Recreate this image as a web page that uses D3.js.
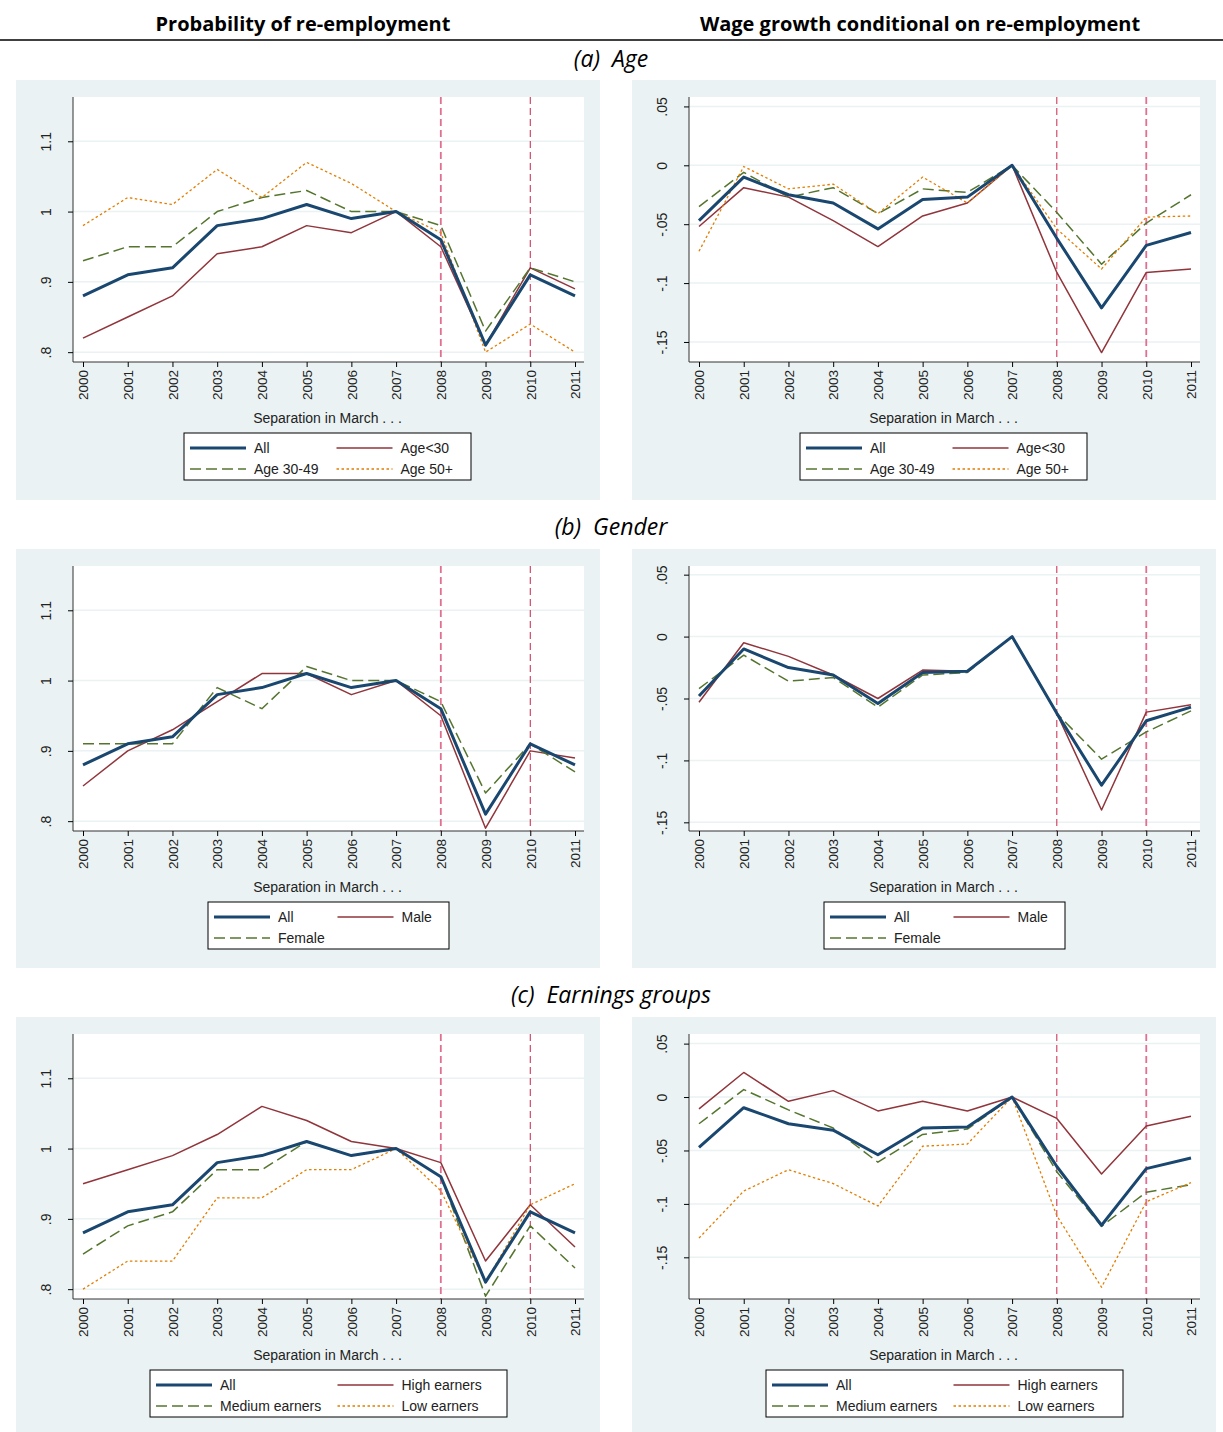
<!DOCTYPE html>
<html>
<head>
<meta charset="utf-8">
<script src="https://cdn.jsdelivr.net/npm/d3@7"></script>
<style>
  body { margin: 0; background: #fff; }
  svg { display: block; }
</style>
</head>
<body>
<div id="wrapper"></div>
<script>
const years = [2000, 2001, 2002, 2003, 2004, 2005, 2006, 2007, 2008, 2009, 2010, 2011];

// probability of re-employment
const probAll = [0.88, 0.91, 0.92, 0.98, 0.99, 1.01, 0.99, 1.0, 0.96, 0.81, 0.91, 0.88];
const probAgeU30 = [0.82, 0.85, 0.88, 0.94, 0.95, 0.98, 0.97, 1.0, 0.95, 0.81, 0.92, 0.89];
const probAge3049 = [0.93, 0.95, 0.95, 1.0, 1.02, 1.03, 1.0, 1.0, 0.98, 0.83, 0.92, 0.90];
const probAge50 = [0.98, 1.02, 1.01, 1.06, 1.02, 1.07, 1.04, 1.0, 0.97, 0.80, 0.84, 0.80];
const probMale = [0.85, 0.90, 0.93, 0.97, 1.01, 1.01, 0.98, 1.0, 0.95, 0.79, 0.90, 0.89];
const probFemale = [0.91, 0.91, 0.91, 0.99, 0.96, 1.02, 1.0, 1.0, 0.97, 0.84, 0.91, 0.87];
const probHigh = [0.95, 0.97, 0.99, 1.02, 1.06, 1.04, 1.01, 1.0, 0.98, 0.84, 0.92, 0.86];
const probMedium = [0.85, 0.89, 0.91, 0.97, 0.97, 1.01, 0.99, 1.0, 0.96, 0.79, 0.89, 0.83];
const probLow = [0.80, 0.84, 0.84, 0.93, 0.93, 0.97, 0.97, 1.0, 0.94, 0.81, 0.92, 0.95];

// wage growth conditional on re-employment
const wageAll = [-0.047, -0.010, -0.025, -0.032, -0.054, -0.029, -0.027, 0, -0.062, -0.121, -0.068, -0.057];
const wageAgeU30 = [-0.052, -0.019, -0.027, -0.047, -0.069, -0.043, -0.032, 0, -0.091, -0.159, -0.091, -0.088];
const wageAge3049 = [-0.035, -0.006, -0.027, -0.019, -0.041, -0.020, -0.023, 0, -0.040, -0.084, -0.049, -0.025];
const wageAge50 = [-0.073, -0.001, -0.020, -0.016, -0.041, -0.010, -0.032, 0, -0.054, -0.088, -0.044, -0.043];
const wageGAll = [-0.048, -0.010, -0.025, -0.031, -0.054, -0.029, -0.028, 0, -0.062, -0.120, -0.068, -0.057];
const wageMale = [-0.053, -0.005, -0.016, -0.031, -0.050, -0.027, -0.028, 0, -0.062, -0.140, -0.061, -0.055];
const wageFemale = [-0.042, -0.015, -0.036, -0.033, -0.057, -0.031, -0.029, 0, -0.062, -0.099, -0.077, -0.060];
const wageEAll = [-0.047, -0.010, -0.025, -0.031, -0.054, -0.029, -0.028, 0, -0.065, -0.120, -0.067, -0.057];
const wageHigh = [-0.011, 0.023, -0.004, 0.006, -0.013, -0.004, -0.013, 0, -0.020, -0.072, -0.027, -0.018];
const wageMedium = [-0.025, 0.007, -0.012, -0.029, -0.061, -0.035, -0.030, 0, -0.070, -0.121, -0.089, -0.082];
const wageLow = [-0.132, -0.088, -0.068, -0.081, -0.102, -0.046, -0.044, 0, -0.111, -0.178, -0.098, -0.080];

const probTicks = [0.8, 0.9, 1.0, 1.1];
const probTickLabels = [".8", ".9", "1", "1.1"];
const wageTicks = [0.05, 0, -0.05, -0.1, -0.15];
const wageTickLabels = [".05", "0", "-.05", "-.1", "-.15"];

const styles = {
  all: { color: "#1a476f", width: 3, dash: null },
  red: { color: "#90353b", width: 1.5, dash: null },
  green: { color: "#55752f", width: 1.5, dash: "11,5" },
  orange: { color: "#e37e00", width: 1.3, dash: "2.5,2.5" },
};

const width = 1223, height = 1432;
const svg = d3.select("#wrapper").append("svg").attr("width", width).attr("height", height);
const font = "'Liberation Sans', Arial, sans-serif";
const titleFont = "'Open Sans', 'Noto Sans', sans-serif";

// headers
svg.append("text").attr("x", 303).attr("y", 31).attr("text-anchor", "middle")
  .attr("font-family", titleFont).attr("font-weight", "bold").attr("font-size", 20)
  .text("Probability of re-employment");
svg.append("text").attr("x", 920).attr("y", 31).attr("text-anchor", "middle")
  .attr("font-family", titleFont).attr("font-weight", "bold").attr("font-size", 20)
  .text("Wage growth conditional on re-employment");
svg.append("line").attr("x1", 0).attr("x2", width).attr("y1", 40).attr("y2", 40)
  .attr("stroke", "#000").attr("stroke-width", 1.3);

const rows = [
  {
    title: "(a)  Age", titleY: 67, top: 80, bottom: 500,
    left: { series: [["All", probAll, "all"], ["Age<30", probAgeU30, "red"], ["Age 30-49", probAge3049, "green"], ["Age 50+", probAge50, "orange"]], domain: [0.786, 1.163], legend: [184, 471] },
    right: { series: [["All", wageAll, "all"], ["Age<30", wageAgeU30, "red"], ["Age 30-49", wageAge3049, "green"], ["Age 50+", wageAge50, "orange"]], domain: [-0.167, 0.058], legend: [800, 1087] },
  },
  {
    title: "(b)  Gender", titleY: 535, top: 549, bottom: 968,
    left: { series: [["All", probAll, "all"], ["Male", probMale, "red"], ["Female", probFemale, "green"]], domain: [0.786, 1.163], legend: [208, 449] },
    right: { series: [["All", wageGAll, "all"], ["Male", wageMale, "red"], ["Female", wageFemale, "green"]], domain: [-0.157, 0.057], legend: [824, 1065] },
  },
  {
    title: "(c)  Earnings groups", titleY: 1003, top: 1017, bottom: 1432,
    left: { series: [["All", probAll, "all"], ["High earners", probHigh, "red"], ["Medium earners", probMedium, "green"], ["Low earners", probLow, "orange"]], domain: [0.786, 1.163], legend: [150, 507] },
    right: { series: [["All", wageEAll, "all"], ["High earners", wageHigh, "red"], ["Medium earners", wageMedium, "green"], ["Low earners", wageLow, "orange"]], domain: [-0.189, 0.059], legend: [766, 1123] },
  },
];

function drawPanel(p, bgX, top, bottom, isProb, thickLineYear) {
  svg.append("rect").attr("x", bgX).attr("y", top).attr("width", 584).attr("height", bottom - top)
    .attr("fill", "#eaf2f3");
  const plot = { left: bgX + 57, right: bgX + 568, top: top + 17, bottom: top + 282 };
  svg.append("rect").attr("x", plot.left).attr("y", plot.top)
    .attr("width", plot.right - plot.left).attr("height", plot.bottom - plot.top).attr("fill", "#fff");

  const x = d3.scalePoint().domain(years).range([plot.left + 10, plot.right - 9]);
  const y = d3.scaleLinear().domain(p.domain).range([plot.bottom, plot.top]);
  const ticks = isProb ? probTicks : wageTicks;
  const labels = isProb ? probTickLabels : wageTickLabels;

  // gridlines
  svg.append("g").selectAll("line").data(ticks).join("line")
    .attr("x1", plot.left).attr("x2", plot.right)
    .attr("y1", d => y(d)).attr("y2", d => y(d))
    .attr("stroke", "#eaf2f3").attr("stroke-width", 1.5);

  // vertical reference lines
  [2008, 2010].forEach(yr => {
    const thick = yr === thickLineYear;
    svg.append("line").attr("x1", x(yr)).attr("x2", x(yr)).attr("y1", plot.top).attr("y2", plot.bottom)
      .attr("stroke", thick ? "#e07090" : "#c8264a").attr("stroke-width", thick ? 1.8 : 1)
      .attr("stroke-dasharray", "7,4");
  });

  // axes
  const yAxis = d3.axisLeft(y).tickValues(ticks).tickFormat((d, i) => labels[i]).tickSize(5);
  const ya = svg.append("g").attr("transform", `translate(${plot.left},0)`).call(yAxis);
  ya.select(".domain").attr("d", `M0,${plot.top}V${plot.bottom}`).attr("stroke", "#333");
  ya.selectAll("text").attr("font-family", font).attr("font-size", 14).attr("fill", "#222")
    .attr("x", 0).attr("y", 0).attr("dy", "0.35em").attr("text-anchor", "middle")
    .attr("transform", "translate(-27,0) rotate(-90)");

  const xAxis = d3.axisBottom(x).tickSize(5);
  const xa = svg.append("g").attr("transform", `translate(0,${plot.bottom})`).call(xAxis);
  xa.select(".domain").attr("d", `M${plot.left},0H${plot.right}`).attr("stroke", "#333");
  xa.selectAll("text").attr("font-family", font).attr("font-size", 13.5).attr("fill", "#222")
    .attr("transform", "rotate(-90)").attr("text-anchor", "end")
    .attr("x", -8).attr("y", 0).attr("dy", "0.35em");

  svg.append("text").attr("x", (plot.left + plot.right) / 2 - 1).attr("y", plot.bottom + 61)
    .attr("text-anchor", "middle").attr("font-family", font).attr("font-size", 14).attr("fill", "#222")
    .text("Separation in March . . .");

  // lines (red, green, orange first; "All" on top)
  const line = d3.line().x((d, i) => x(years[i])).y(d => y(d));
  const order = p.series.slice(1).concat([p.series[0]]);
  order.forEach(([name, vals, key]) => {
    const s = styles[key];
    svg.append("path").attr("d", line(vals)).attr("fill", "none")
      .attr("stroke", s.color).attr("stroke-width", s.width)
      .attr("stroke-dasharray", s.dash).attr("stroke-linejoin", "round");
  });

  // legend
  const [lx0, lx1] = p.legend;
  const ly = plot.bottom + 71;
  svg.append("rect").attr("x", lx0).attr("y", ly).attr("width", lx1 - lx0).attr("height", 47)
    .attr("fill", "#fff").attr("stroke", "#000").attr("stroke-width", 1);
  const colW = (lx1 - lx0) / 2;
  p.series.forEach(([name, vals, key], i) => {
    const s = styles[key];
    const cx = lx0 + 6 + (i % 2) * (colW + 3);
    const cy = ly + 15 + Math.floor(i / 2) * 21;
    svg.append("line").attr("x1", cx).attr("x2", cx + 56).attr("y1", cy).attr("y2", cy)
      .attr("stroke", s.color).attr("stroke-width", s.width).attr("stroke-dasharray", s.dash);
    svg.append("text").attr("x", cx + 64).attr("y", cy).attr("dy", "0.35em")
      .attr("font-family", font).attr("font-size", 14).attr("fill", "#222").text(name);
  });
}

rows.forEach(r => {
  svg.append("text").attr("x", 611).attr("y", r.titleY).attr("text-anchor", "middle")
    .attr("font-family", titleFont).attr("font-style", "italic").attr("font-size", 23)
    .attr("xml:space", "preserve").style("white-space", "pre")
    .text(r.title);
  drawPanel(r.left, 16, r.top, r.bottom, true, 2008);
  drawPanel(r.right, 632, r.top, r.bottom, false, 2010);
});
</script>
</body>
</html>
